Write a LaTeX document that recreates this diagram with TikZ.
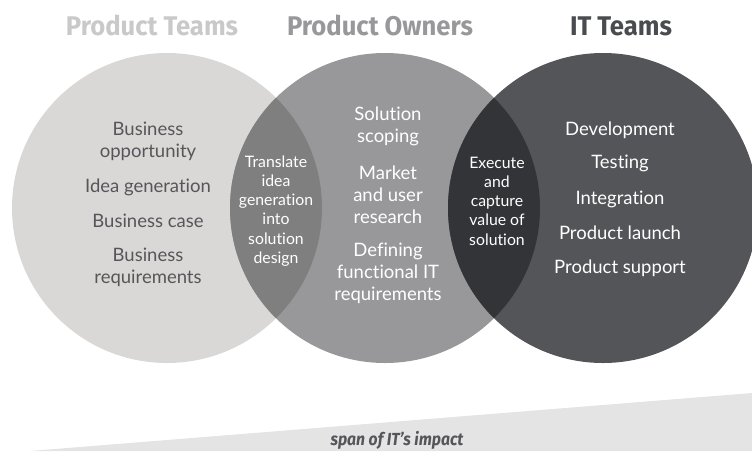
\documentclass[tikz,border=0pt]{standalone}
\usepackage{fontspec}
\setmainfont{Lato}[Ligatures=NoCommon]
\newfontfamily\headfont[FakeStretch=0.95]{Fira Sans}
\newfontfamily\condfont[FakeStretch=0.9]{Fira Sans}
\usepackage{tikz}
\usetikzlibrary{positioning}

\definecolor{teamgray}{HTML}{D9D8D6}
\definecolor{ownergray}{HTML}{98989A}
\definecolor{itgray}{HTML}{545559}
\definecolor{lensone}{HTML}{7F7F80}
\definecolor{lenstwo}{HTML}{333438}
\definecolor{textgray}{HTML}{56565A}
\definecolor{titleone}{HTML}{C9C9C9}
\definecolor{titletwo}{HTML}{98989A}
\definecolor{titlethree}{HTML}{4A4B4F}
\definecolor{spangray}{HTML}{E4E4E4}

\tikzset{
	ring/.style={circle, minimum size=310pt, inner sep=0pt, draw=none},
	title/.style={font=\headfont\bfseries\fontsize{27}{30}\selectfont, anchor=base},
	item/.style={font=\fontsize{18.5}{22}\selectfont, align=center, inner sep=0pt},
	lenstext/.style={font=\fontsize{15.8}{19.2}\selectfont, align=center, inner sep=0pt, text=white}
}

\begin{document}
\begin{tikzpicture}[x=1pt, y=-1pt]
	\useasboundingbox (0,0) rectangle (752,451);
	
	\node[ring, fill=teamgray] (pt) at (167,208) {};
	\node[ring, fill=ownergray] (po) at (385,208) {};
	\node[ring, fill=itgray] (it) at (603,208) {};
	
	\def\r{155pt}
	
	\begin{scope}
		\clip (pt.center) circle (\r);
		\fill[lensone] (po.center) circle (\r);
	\end{scope}
	\begin{scope}
		\clip (po.center) circle (\r);
		\fill[lenstwo] (it.center) circle (\r);
	\end{scope}
	
	\node[title, text=titleone] (tpt) at (152,35) {Product Teams};
	\node[title, text=titletwo] (tpo) at (380,35) {Product Owners};
	\node[title, text=titlethree] (tit) at (621,35) {IT Teams};
	
	\node[item, text=textgray] (b1) at (148,141) {Business\\opportunity};
	\node[item, text=textgray] (b2) at (148,187) {Idea generation};
	\node[item, text=textgray] (b3) at (148,221) {Business case};
	\node[item, text=textgray] (b4) at (148,267) {Business\\requirements};
	
	\node[lenstext] (l1) at (276,211) {Translate\\idea\\generation\\into\\solution\\design};
	
	\node[item, text=white] (o1) at (388,126) {Solution\\scoping};
	\node[item, text=white] (o2) at (388,195) {Market\\and user\\research};
	\node[item, text=white] (o3) at (388,273) {Defining\\functional IT\\requirements};
	
	\node[lenstext] (l2) at (497,201) {Execute\\and\\capture\\value of\\solution};
	
	\node[item, text=white] (d1) at (620,130) {Development};
	\node[item, text=white] (d2) at (620,163) {Testing};
	\node[item, text=white] (d3) at (620,199) {Integration};
	\node[item, text=white] (d4) at (620,233) {Product launch};
	\node[item, text=white] (d5) at (620,268) {Product support};
	
	\coordinate (w1) at (30,451);
	\coordinate (w2) at (752,393);
	\coordinate (w3) at (752,451);
	\fill[spangray] (w1) -- (w2) -- (w3) -- cycle;
	\node[font=\condfont\bfseries\itshape\fontsize{17.5}{19}\selectfont, text=textgray] (span) at (397,440) {span of IT’s impact};
\end{tikzpicture}
\end{document}
